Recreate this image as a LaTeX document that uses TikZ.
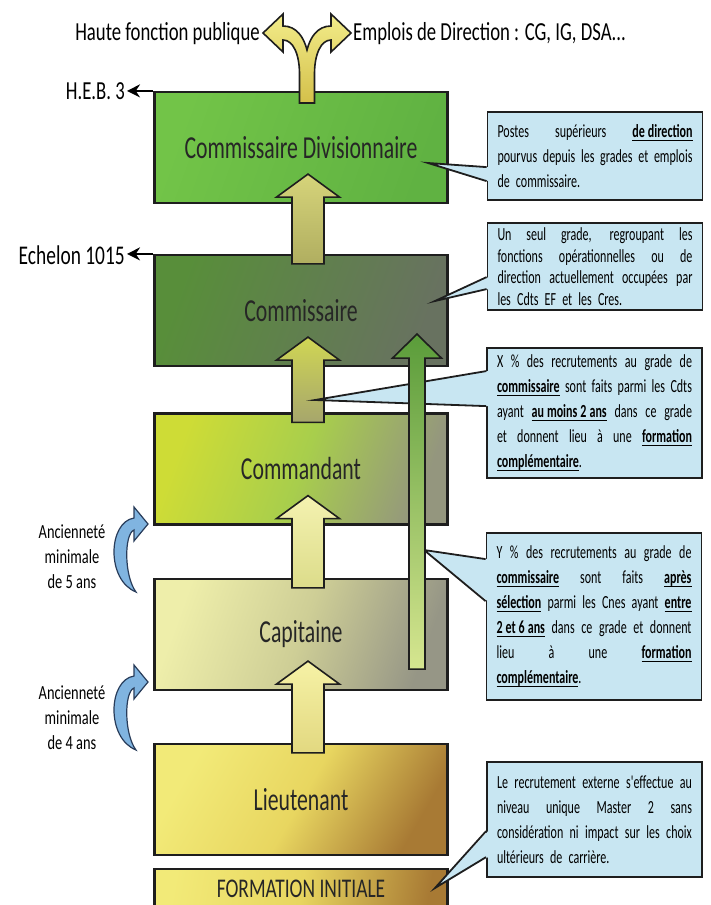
\documentclass[tikz,border=0pt]{standalone}
\usepackage{fontspec}
\setmainfont{Carlito}[FakeStretch=0.72]
\newfontfamily\callfont{Carlito}[FakeStretch=0.65]
\newfontfamily\gradefont{Carlito}[FakeStretch=0.68]
\usepackage{tikz}
\usepackage{xcolor}
\usetikzlibrary{positioning,calc,arrows.meta}

\definecolor{outline}{RGB}{30,30,30}
\definecolor{callblue}{RGB}{200,230,242}
\definecolor{cdA}{RGB}{114,196,72}
\definecolor{cdB}{RGB}{96,178,66}
\definecolor{creA}{RGB}{88,142,58}
\definecolor{creB}{RGB}{104,114,96}
\definecolor{cdtA}{RGB}{206,220,54}
\definecolor{cdtB}{RGB}{168,206,76}
\definecolor{cdtC}{RGB}{148,150,126}
\definecolor{capA}{RGB}{238,238,170}
\definecolor{capB}{RGB}{206,206,150}
\definecolor{capC}{RGB}{150,150,134}
\definecolor{ltA}{RGB}{242,234,120}
\definecolor{ltB}{RGB}{232,214,96}
\definecolor{ltC}{RGB}{168,122,52}
\definecolor{turnblue}{RGB}{128,180,224}
\definecolor{turnline}{RGB}{40,60,90}

\newsavebox{\ulbox}
\newcommand{\ulbf}[1]{\leavevmode\sbox{\ulbox}{\bfseries #1}\rlap{\rule[-3.5pt]{\wd\ulbox}{1.4pt}}\usebox{\ulbox}}
\def\callw{195pt}
\newcommand{\jline}[1]{\makebox[\callw][s]{\spaceskip 3pt plus 30pt minus 1pt\relax #1}}

% block arrow between two grades
\newcommand{\gradearrow}[3]{%
  \draw[#3] ($(#1.north)+(-9,10)$) -- ($(#2.south)+(-9,-7)$) -- ($(#2.south)+(-24.5,-7)$)
    -- ($(#2.south)+(7,-30)$) -- ($(#2.south)+(38.5,-7)$) -- ($(#2.south)+(23,-7)$)
    -- ($(#1.north)+(23,10)$) -- cycle;}

% curved seniority arrow
\newcommand{\seniorityturn}[1]{%
  \begin{scope}[shift={#1}]
    \draw[turn] (6,40) .. controls (-24,28) and (-22,-30) .. (4,-34) -- (4,-45) -- (18,-28)
      -- (4,-11) -- (4,-22) .. controls (-6,-18) and (-6,24) .. (6,40) -- cycle;
  \end{scope}}

\begin{document}
\begin{tikzpicture}[x=1pt,y=-1pt]
	\tikzstyle{grade}=[draw=outline,line width=2.2pt,minimum width=293pt,minimum height=111pt,font=\gradefont\fontsize{32}{38}\selectfont,text=black!85]
	\tikzstyle{uparrow}=[draw=outline,line width=1.6pt]
	\tikzstyle{callbox}=[draw=outline,line width=1.8pt,fill=callblue,inner xsep=10pt,text width=\callw,align=left,
	  font=\callfont\fontsize{18.5}{25}\selectfont]
	\tikzstyle{callline}=[draw=outline,line width=1.8pt]
	\tikzstyle{level}=[font=\fontsize{26}{30}\selectfont,inner sep=2pt]
	\tikzstyle{levelarrow}=[draw=black,line width=2pt,-{Stealth[length=13pt,width=13pt]}]
	\tikzstyle{seniority}=[align=center,font=\fontsize{20}{25}\selectfont]
	\tikzstyle{turn}=[draw=turnline,line width=1.2pt,fill=turnblue]

	\useasboundingbox (0,0) rectangle (710,905);

	% grades
	\node [grade,left color=cdA,right color=cdB,shading angle=70] (cd) at (301,147.5) {Commissaire Divisionnaire};
	\node [grade,left color=creA,right color=creB,shading angle=70] (cre) at (301,310.5) {Commissaire};
	\node [grade,left color=cdtA,right color=cdtC,middle color=cdtB,shading angle=70] (cdt) at (301,469) {Commandant};
	\node [grade,left color=capA,right color=capC,middle color=capB,shading angle=70] (cap) at (301,634.5) {Capitaine};
	\node [grade,left color=ltA,right color=ltC,middle color=ltB,shading angle=60] (lt) at (301,799.5) {Lieutenant};
	\node [grade,minimum height=40pt,font=\fontsize{27}{30}\selectfont,left color=ltA,right color=ltC,middle color=ltB,shading angle=80] (fi) at (301,889) {FORMATION INITIALE};

	% indices
	\node [level,anchor=east] (heb) at (127,91) {H.E.B. 3};
	\node [level,anchor=east,font=\fontsize{27}{30}\selectfont] (ech) at (127,255) {Echelon 1015};
	\draw [levelarrow] (cd.north west) -- (heb.east |- cd.north west);
	\draw [levelarrow] (cre.north west) -- (ech.east |- cre.north west);

	% promotions
	\gradearrow{lt}{cap}{uparrow,top color={rgb,255:red,246;green,242;blue,166},bottom color={rgb,255:red,226;green,216;blue,128}}
	\gradearrow{cap}{cdt}{uparrow,top color={rgb,255:red,244;green,242;blue,176},bottom color={rgb,255:red,220;green,220;blue,138}}
	\gradearrow{cdt}{cre}{uparrow,top color={rgb,255:red,208;green,214;blue,84},bottom color={rgb,255:red,166;green,166;blue,108}}
	\gradearrow{cre}{cd}{uparrow,top color={rgb,255:red,214;green,212;blue,122},bottom color={rgb,255:red,176;green,174;blue,96}}

	% exits at the top
	\coordinate (forkl) at (262,34);
	\coordinate (forkr) at (351,34);
	\draw [uparrow,top color={rgb,255:red,242;green,236;blue,138},bottom color={rgb,255:red,212;green,192;blue,74}]
	  (299.5,103) -- (299.5,74) .. controls (299.5,54) and (293,40) .. (283,40) -- (283,52) -- (263,33) -- (283,14) -- (283,26)
	  .. controls (297,26) and (304,38) .. (307,50) .. controls (310,38) and (317,26) .. (331,26) -- (331,14) -- (351,33)
	  -- (331,52) -- (331,40) .. controls (321,40) and (314.5,54) .. (314.5,74) -- (314.5,103) -- cycle;
	\node [level,anchor=east] (hfp) at (forkl) {Haute fonction publique};
	\node [level,anchor=west] (edir) at (forkr) {Emplois de Direction : CG, IG, DSA...};

	% callouts
	\coordinate (p1) at (428,163);
	\coordinate (p2) at (435,301);
	\coordinate (p3) at (315,400);
	\coordinate (p4) at (424,550);
	\coordinate (p5) at (435,888);

	\node [callbox,minimum height=88pt] (c1) at (595,156) {\jline{Postes supérieurs \ulbf{de direction}}\\
	  \jline{pourvus depuis les grades et emplois}\\de commissaire.};
	\node [callbox,minimum height=87pt,font=\callfont\fontsize{18.5}{21.5}\selectfont] (c2) at (595,266.5) {\jline{Un seul grade, regroupant les}\\
	  \jline{fonctions opérationnelles ou de}\\\jline{direction actuellement occupées par}\\les Cdts EF et les Cres.};
	\node [callbox,minimum height=130pt] (c3) at (594.5,413) {\jline{X \% des recrutements au grade de}\\
	  \jline{\ulbf{commissaire} sont faits parmi les Cdts}\\\jline{ayant \ulbf{au moins 2 ans} dans ce grade}\\
	  \jline{et donnent lieu à une \ulbf{formation}}\\\ulbf{complémentaire}.};
	\node [callbox,minimum height=167pt] (c4) at (594,616.5) {\jline{Y \% des recrutements au grade de}\\
	  \jline{\ulbf{commissaire} sont faits \ulbf{après}}\\\jline{\ulbf{sélection} parmi les Cnes ayant \ulbf{entre}}\\
	  \jline{\ulbf{2 et 6 ans} dans ce grade et donnent}\\\jline{lieu à une \ulbf{formation}}\\\ulbf{complémentaire}.};
	\node [callbox,minimum height=115pt] (c5) at (594.5,819.5) {\jline{Le recrutement externe s'effectue au}\\
	  \jline{niveau unique Master 2 sans}\\\jline{considération ni impact sur les choix}\\ultérieurs de carrière.};

	\foreach \cb/\tip/\a/\b in {c1/p1/56/70, c2/p2/55/67, c3/p3/24/59, c4/p4/27/69, c5/p5/70/96} {
	  \fill [callblue] ($(\cb.north west)+(2,\a)$) -- (\tip) -- ($(\cb.north west)+(2,\b)$) -- cycle;
	  \draw [callline] ($(\cb.north west)+(0,\a)$) -- (\tip) -- ($(\cb.north west)+(0,\b)$);
	}

	% selection of captains
	\draw [uparrow,top color={rgb,255:red,90;green,156;blue,58},bottom color={rgb,255:red,214;green,230;blue,144}]
	  ($(cap.south)+(108,-22)$) -- ($(cre.south)+(108,-9)$) -- ($(cre.south)+(91.5,-9)$) -- ($(cre.south)+(116,-33)$)
	  -- ($(cre.south)+(140.5,-9)$) -- ($(cre.south)+(124,-9)$) -- ($(cap.south)+(124,-22)$) -- cycle;

	% seniority
	\node [seniority] (anc5) at (72,557) {Ancienneté\\minimale\\de 5 ans};
	\node [seniority] (anc4) at (72,718) {Ancienneté\\minimale\\de 4 ans};
	\seniorityturn{(130,552)}
	\seniorityturn{(130,710)}

\end{tikzpicture}
\end{document}
